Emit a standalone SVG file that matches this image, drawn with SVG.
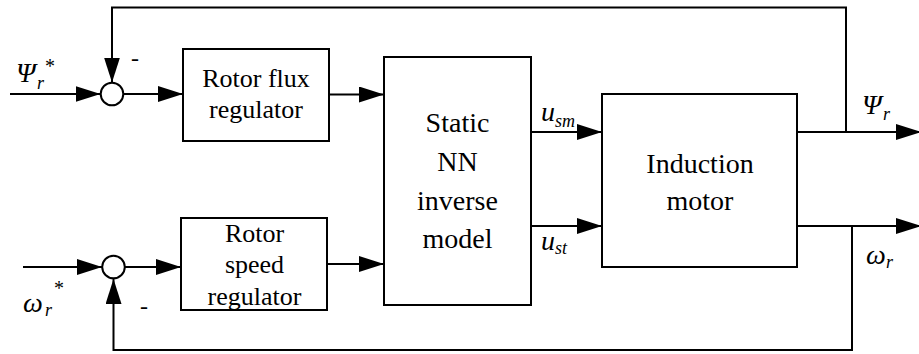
<svg xmlns="http://www.w3.org/2000/svg" width="919" height="354" viewBox="0 0 919 354">
<style>
.box{fill:#fff;stroke:#000;stroke-width:2}
.ln{fill:none;stroke:#000;stroke-width:2}
.lbl{fill:#000;text-anchor:middle}
.it{font-style:italic;fill:#000}
.sym{fill:#000}
</style>
<defs>
<marker id="arr" markerUnits="userSpaceOnUse" markerWidth="26" markerHeight="16" refX="25" refY="8" orient="auto" viewBox="0 0 26 16">
<path d="M0,0 L25,8 L0,16 z" fill="#000"/>
</marker>
</defs>
<rect width="919" height="354" fill="#fff"/>
<g id="connectors">
<polyline class="ln" points="846,132 846,7.5 112,7.5 112,82.5" marker-end="url(#arr)"/>
<line class="ln" x1="10" y1="94" x2="100.5" y2="94" marker-end="url(#arr)"/>
<line class="ln" x1="123" y1="94" x2="183" y2="94" marker-end="url(#arr)"/>
<line class="ln" x1="329" y1="94.5" x2="384" y2="94.5" marker-end="url(#arr)"/>
<line class="ln" x1="531" y1="132" x2="602" y2="132" marker-end="url(#arr)"/>
<line class="ln" x1="531" y1="226" x2="602" y2="226" marker-end="url(#arr)"/>
<line class="ln" x1="797" y1="132" x2="921" y2="132" marker-end="url(#arr)"/>
<line class="ln" x1="797" y1="226" x2="921" y2="226" marker-end="url(#arr)"/>
<polyline class="ln" points="852,226 852,350 113.5,350 113.5,279" marker-end="url(#arr)"/>
<line class="ln" x1="23" y1="267" x2="102" y2="267" marker-end="url(#arr)"/>
<line class="ln" x1="125" y1="267" x2="181" y2="267" marker-end="url(#arr)"/>
<line class="ln" x1="327" y1="264" x2="384" y2="264" marker-end="url(#arr)"/>
</g>
<g font-family="Liberation Serif, DejaVu Serif, serif">
<g id="sum1">
<circle class="box" cx="112" cy="94" r="11.3"/>
<text class="sym" x="131" y="66" font-size="24">-</text>
</g>
<g id="sum2">
<circle class="box" cx="113.5" cy="267" r="11.3"/>
<text class="sym" x="140" y="314" font-size="24">-</text>
</g>
<g id="flux_regulator">
<rect class="box" x="183" y="49" width="146" height="92"/>
<text class="lbl" x="256" y="87" font-size="26">Rotor flux</text>
<text class="lbl" x="256" y="118" font-size="26">regulator</text>
</g>
<g id="speed_regulator">
<rect class="box" x="181" y="218" width="146" height="92"/>
<text class="lbl" x="254.5" y="242" font-size="26">Rotor</text>
<text class="lbl" x="254.5" y="273" font-size="26">speed</text>
<text class="lbl" x="254.5" y="305" font-size="26">regulator</text>
</g>
<g id="nn_inverse">
<rect class="box" x="384" y="57" width="147" height="248"/>
<text class="lbl" x="457.5" y="132" font-size="28">Static</text>
<text class="lbl" x="457.5" y="171" font-size="28">NN</text>
<text class="lbl" x="457.5" y="210" font-size="28">inverse</text>
<text class="lbl" x="457.5" y="248" font-size="28">model</text>
</g>
<g id="induction_motor">
<rect class="box" x="602" y="94" width="195" height="173"/>
<text class="lbl" x="700" y="173" font-size="28">Induction</text>
<text class="lbl" x="700" y="210" font-size="28">motor</text>
</g>
<g id="labels">
<text class="it" x="16" y="82" font-size="28">Ψ</text>
<text class="it" x="37" y="89" font-size="18">r</text>
<text class="sym" x="45" y="73" font-size="20">*</text>
<text class="it" x="23" y="312" font-size="28">ω</text>
<text class="it" x="45" y="316" font-size="18">r</text>
<text class="sym" x="54" y="295" font-size="20">*</text>
<text class="it" x="541" y="121" font-size="28">u</text>
<text class="it" x="555" y="127" font-size="18">sm</text>
<text class="it" x="541" y="250" font-size="28">u</text>
<text class="it" x="555" y="254" font-size="18">st</text>
<text class="it" x="862" y="114" font-size="28">Ψ</text>
<text class="it" x="883" y="120" font-size="18">r</text>
<text class="it" x="866" y="264" font-size="28">ω</text>
<text class="it" x="886" y="268" font-size="18">r</text>
</g>
</g>
</svg>
